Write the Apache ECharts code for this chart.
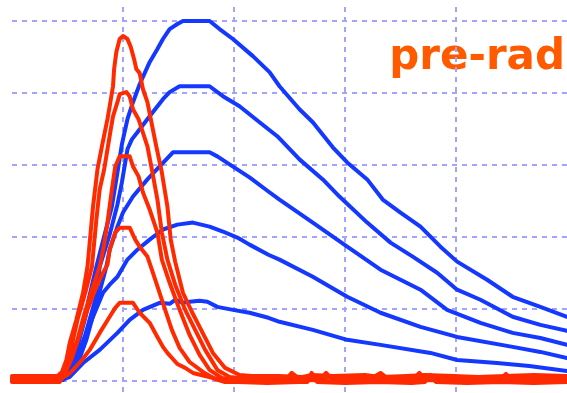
<!DOCTYPE html>
<html>
<head>
<meta charset="utf-8">
<script src="https://cdn.jsdelivr.net/npm/echarts@6/dist/echarts.min.js"></script>
<style>
  html, body { margin: 0; padding: 0; background: #fff; }
  #chart { width: 567px; height: 393px; }
</style>
</head>
<body>
<div id="chart"></div>
<script>
// Time axis (ns) and amplitude axis (mV) layout
const timeTicks = { min: 0, max: 500, step: 100 };
const ampTicks = { min: 0, max: 250, step: 50 };

// Long shaping pulses, [time ns, amplitude mV]
const blue1 = [[0,0.7],[43,0.7],[48,2.1],[57,18.1],[66,43.9],[69,56.4],[76,79.4],[83,100.3],[90,121.2],[95,144.8],
  [99,164.3],[104,181.8],[109,193.6],[115,206.1],[124,221.4],[131,230.5],[136,237.5],[142,244.4],[149,247.9],[154,250],
  [178,250],[187,244.4],[199,237.5],[217,225.6],[232,214.5],[241,204.7],[259,188.7],[271,179.7],[289,162.3],[302,151.8],
  [320,140.0],[334,126.0],[350,117.0],[368,107.2],[386,93.3],[401,82.9],[428,70.3],[451,58.5],[476,51.5],[500,44.6]];
const blue2 = [[0,0.7],[45,0.7],[50,3.5],[57,13.2],[66,32.0],[75,56.4],[79,79.4],[88,101.7],[95,122.6],[99,137.9],
  [104,160.9],[108,167.8],[113,172.7],[124,183.8],[136,195.7],[142,200.6],[151,204.7],[178,204.7],[190,197.8],[205,190.8],
  [223,179.7],[239,170.0],[253,158.8],[259,153.9],[280,140.0],[295,128.1],[320,110.0],[341,96.1],[361,86.4],[383,75.2],
  [401,63.4],[422,56.4],[451,44.6],[476,39.0],[500,34.8]];
const blue3 = [[0,0.7],[46,0.7],[50,3.5],[61,16.0],[67,28.6],[72,42.5],[77,56.4],[85,79.4],[88,91.2],[95,107.2],
  [100,117.0],[109,128.1],[122,140.0],[133,149.0],[145,158.8],[178,158.8],[185,156.0],[196,150.4],[214,141.4],[231,131.6],
  [241,126.0],[271,110.0],[302,93.3],[332,77.3],[368,63.4],[392,49.4],[422,40.4],[451,33.4],[476,29.9],[500,25.1]];
const blue4 = [[0,0.7],[43,0.7],[46,1.4],[52,7.7],[64,26.5],[68,35.5],[73,44.6],[82,61.3],[88,66.9],[95,72.4],
  [104,84.3],[113,91.2],[124,98.2],[136,105.2],[149,108.6],[163,110.0],[178,107.2],[190,103.8],[203,99.6],[214,94.7],
  [231,87.7],[241,84.3],[271,72.4],[302,58.5],[332,47.4],[368,37.6],[401,30.6],[451,23.7],[476,20.2],[500,16.0]];
const blue5 = [[0,0.7],[43,0.7],[52,2.8],[64,12.5],[79,21.6],[95,33.4],[106,42.5],[118,49.4],[133,54.3],[142,53.6],
  [147,56.4],[154,54.3],[160,55.0],[169,55.7],[176,55.0],[185,51.5],[199,49.4],[214,47.4],[231,43.9],[241,41.1],
  [271,35.5],[302,28.6],[332,25.1],[377,19.5],[401,14.6],[437,12.5],[466,10.4],[500,7.0]];

// Fast pulses, [time ns, amplitude mV]
const red1 = [[0,3.5],[41,3.5],[45,6.3],[49,14.6],[52,26.5],[58,42.5],[64,61.3],[68,79.4],[73,121.2],[77,146.9],
  [81,163.0],[86,181.8],[88,190.8],[91,204.7],[92,216.6],[94,228.4],[97,237.5],[100,239.6],[104,237.5],[107,231.9],
  [110,223.5],[112,216.6],[115,213.8],[118,202.6],[122,193.6],[124,185.9],[130,163.0],[135,144.8],[140,121.2],[143,98.2],
  [147,82.9],[154,61.3],[162,48.1],[169,37.6],[181,19.5],[192,9.1],[205,4.2],[216,3.5]];
const red2 = [[0,2.1],[41,2.1],[45,5.6],[50,14.6],[54,25.1],[59,42.5],[66,61.3],[72,79.4],[76,112.1],[79,133.0],
  [83,146.9],[86,160.9],[89,174.8],[91,183.8],[95,193.6],[97,199.2],[103,200.6],[106,197.8],[109,188.7],[114,181.8],
  [117,174.8],[122,163.0],[126,146.9],[131,126.0],[135,103.1],[140,84.3],[147,66.9],[156,49.4],[165,35.5],[174,21.6],
  [185,7.7],[196,2.8],[205,2.1]];
const red3 = [[0,0.7],[43,0.7],[47,5.6],[52,14.6],[59,28.6],[65,46.0],[72,63.4],[79,79.4],[83,94.7],[86,110.0],
  [90,133.0],[93,149.0],[97,156.0],[106,156.0],[109,149.0],[114,142.1],[118,130.9],[124,119.1],[131,103.1],[135,84.3],
  [142,68.2],[151,49.4],[160,32.0],[169,18.1],[178,7.7],[189,2.1],[201,0.7]];
const red4 = [[0,-0.7],[43,-0.7],[48,5.6],[54,16.0],[61,32.0],[68,49.4],[75,63.4],[81,73.8],[86,80.8],[88,91.2],
  [93,103.1],[97,106.5],[106,106.5],[111,98.2],[115,93.3],[122,86.4],[126,77.3],[132,63.4],[138,49.4],[144,35.5],
  [151,23.0],[160,13.2],[172,6.3],[183,1.4],[192,-0.7]];
const red5 = [[0,1.4],[43,1.4],[50,4.2],[55,7.7],[63,14.6],[70,21.6],[79,33.4],[88,44.6],[93,50.8],[97,54.3],
  [109,54.3],[115,47.4],[124,40.4],[131,30.6],[136,23.7],[140,19.5],[149,11.8],[156,9.1],[163,5.6],[174,3.5],[185,1.4]];

// Baseline noise after each fast pulse
const red1Tail = [[240,3.5],[262,2.8],[270,4.2],[290,3.5],[318,4.2],[332,2.8],[356,3.5],[372,4.2],[398,3.5],[420,2.8],
  [444,3.5],[470,4.2],[500,3.5]];
const red2Tail = [[214,2.1],[232,2.8],[248,2.1],[252,5.6],[258,2.1],[284,2.8],[300,2.1],[326,2.8],[332,5.6],[338,2.1],
  [368,2.8],[392,2.1],[420,2.8],[446,2.1],[474,2.8],[500,2.1]];
const red3Tail = [[212,0.7],[240,0.0],[268,0.7],[296,-0.7],[324,0.7],[352,0.0],[380,0.7],[408,-0.7],[436,0.7],[464,0.0],
  [500,0.7]];
const red4Tail = [[204,-0.7],[230,-1.4],[258,-0.7],[266,-0.7],[270,5.6],[275,-0.7],[300,-1.4],[330,-0.7],[360,-1.4],
  [372,-0.7],[377,4.2],[382,-0.7],[410,-1.4],[440,-0.7],[470,-1.4],[500,-0.7]];
const red5Tail = [[198,1.4],[226,0.7],[254,1.4],[278,1.4],[283,5.6],[288,1.4],[316,0.7],[344,1.4],[362,1.4],[367,5.6],
  [372,1.4],[400,0.7],[428,1.4],[440,1.4],[445,4.9],[450,1.4],[476,0.7],[500,1.4]];

const titleText = 'pre-rad';

const BLUE = '#1438ff';
const RED = '#ff2a00';
const GRID_COLOR = '#a4a4ff';

const chart = echarts.init(document.getElementById('chart'), null, { renderer: 'canvas' });

function pulse(data, color) {
  return {
    type: 'line',
    xAxisIndex: 0,
    yAxisIndex: 0,
    data: data,
    showSymbol: false,
    symbol: 'none',
    clip: false,
    silent: true,
    lineStyle: { color: color, width: 4, join: 'round', cap: 'round' },
    itemStyle: { color: color }
  };
}

const hiddenAxisParts = {
  axisLine: { show: false },
  axisTick: { show: false },
  axisLabel: { show: false }
};

const gridDash = { color: GRID_COLOR, width: 2, type: [5, 5] };

chart.setOption({
  animation: false,
  backgroundColor: '#ffffff',
  grid: [
    { left: 12, right: 0, top: 21, bottom: 12 },
    { left: 12, right: 0, top: 7, bottom: 0 }
  ],
  xAxis: [
    Object.assign({
      gridIndex: 0, type: 'value',
      min: timeTicks.min, max: timeTicks.max, interval: timeTicks.step,
      splitLine: { show: false }
    }, hiddenAxisParts),
    Object.assign({
      gridIndex: 1, type: 'value',
      min: timeTicks.min, max: timeTicks.max, interval: timeTicks.step,
      splitLine: { show: true, showMinLine: false, showMaxLine: false, lineStyle: gridDash }
    }, hiddenAxisParts)
  ],
  yAxis: [
    Object.assign({
      gridIndex: 0, type: 'value',
      min: ampTicks.min, max: ampTicks.max, interval: ampTicks.step,
      splitLine: { show: true, lineStyle: gridDash }
    }, hiddenAxisParts),
    Object.assign({
      gridIndex: 1, type: 'value', min: 0, max: 1,
      splitLine: { show: false }
    }, hiddenAxisParts)
  ],
  graphic: [{
    type: 'text',
    right: 2,
    top: 37,
    style: {
      text: titleText,
      fill: '#ff5a00',
      font: 'bold 42px "DejaVu Sans"'
    }
  }],
  series: [
    pulse(blue5, BLUE),
    pulse(blue4, BLUE),
    pulse(blue3, BLUE),
    pulse(blue2, BLUE),
    pulse(blue1, BLUE),
    pulse(red5.concat(red5Tail), RED),
    pulse(red4.concat(red4Tail), RED),
    pulse(red3.concat(red3Tail), RED),
    pulse(red2.concat(red2Tail), RED),
    pulse(red1.concat(red1Tail), RED)
  ]
});
</script>
</body>
</html>
